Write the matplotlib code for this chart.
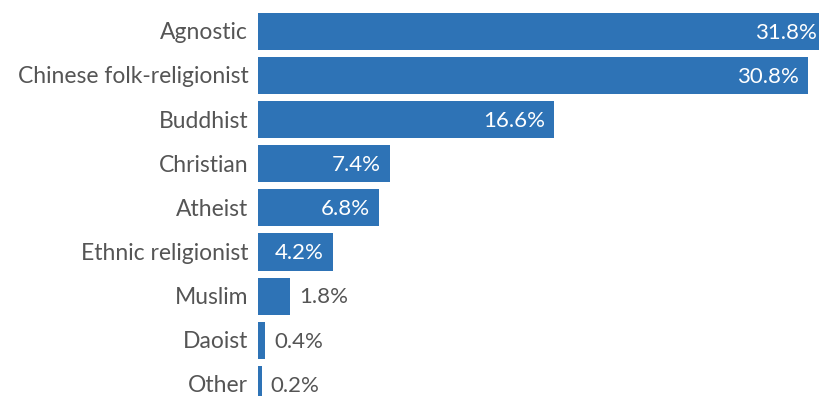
import matplotlib
matplotlib.use("Agg")
import matplotlib.pyplot as plt

categories = ["Agnostic", "Chinese folk-religionist", "Buddhist", "Christian",
              "Atheist", "Ethnic religionist", "Muslim", "Daoist", "Other"]
values = [31.8, 30.8, 16.6, 7.4, 6.8, 4.2, 1.8, 0.4, 0.2]

BAR_COLOR = "#2e73b6"
TEXT_COLOR = "#555555"
FONT = ["Lato", "DejaVu Sans"]

fig = plt.figure(figsize=(8.19, 3.96), dpi=100)
ax = fig.add_axes([258 / 819, 0, 1 - 258 / 819, 1])

y = list(range(len(categories)))
ax.barh(y, values, height=0.84, color=BAR_COLOR, linewidth=0)

ax.set_xlim(0, 31.43)
ax.set_ylim(8.265, -0.714)

for i, (cat, v) in enumerate(zip(categories, values)):
    ax.annotate(cat, xy=(0, i), xytext=(-7, -1), textcoords="offset points",
                ha="right", va="center", fontsize=16.5, color=TEXT_COLOR,
                family=FONT, annotation_clip=False)
    label = f"{v:.1f}%"
    if v >= 3:
        ax.annotate(label, xy=(v, i), xytext=(-6.5, -1), textcoords="offset points",
                    ha="right", va="center", fontsize=16, color="white",
                    family=FONT, annotation_clip=False)
    else:
        ax.annotate(label, xy=(v, i), xytext=(6.5, -1), textcoords="offset points",
                    ha="left", va="center", fontsize=16, color=TEXT_COLOR,
                    family=FONT, annotation_clip=False)

ax.axis("off")
fig.savefig("out.png", dpi=100)
